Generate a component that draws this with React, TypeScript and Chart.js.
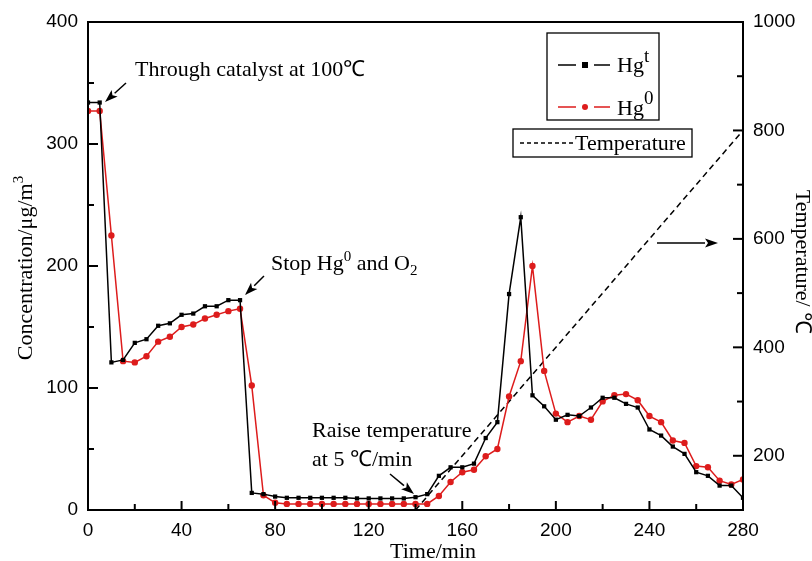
import React, { useEffect, useRef } from 'react';
import { Chart, registerables } from 'chart.js';

Chart.register(...registerables);

// ---- Data ----
const times = [
  0, 5, 10, 15, 20, 25, 30, 35, 40, 45, 50, 55, 60, 65, 70, 75, 80, 85, 90, 95,
  100, 105, 110, 115, 120, 125, 130, 135, 140, 145, 150, 155, 160, 165, 170, 175,
  180, 185, 190, 195, 200, 205, 210, 215, 220, 225, 230, 235, 240, 245, 250, 255,
  260, 265, 270, 275, 280,
];

const hgTotal = [
  334, 334, 121, 123, 137, 140, 151, 153, 160, 161, 167, 167, 172, 172, 14, 13, 11, 10, 10, 10,
  10, 10, 10, 9.5, 9.5, 9.5, 9.5, 9.5, 10.5, 13, 28, 35, 35, 38, 59, 72,
  177, 240, 94, 85, 74, 78, 77, 84, 92, 92, 87, 84, 66, 61, 52, 46,
  31, 28, 20, 20, 10,
];

const hgElemental = [
  327, 327, 225, 122, 121, 126, 138, 142, 150, 152, 157, 160, 163, 165, 102, 12, 6, 5, 5, 5,
  5, 5, 5, 5, 5, 5, 5, 5, 5, 5, 11.5, 23, 31, 33, 44, 50,
  93, 122, 200, 114, 79, 72, 77, 74, 89, 94, 95, 90, 77, 72, 57, 55,
  36, 35, 24, 21, 25,
];

const tempTimes = [140, 280];
const tempValues = [100, 800];

const xTickValues = [0, 40, 80, 120, 160, 200, 240, 280];
const leftTickValues = [0, 100, 200, 300, 400];
const rightTickValues = [200, 400, 600, 800, 1000];

const SERIF = "'Liberation Serif', 'Times New Roman', serif";
const SANS = "'Liberation Sans', Arial, sans-serif";
const RED = '#dd1c1c';

type Part = { t: string; size?: number; dy?: number };

function richWidth(ctx: CanvasRenderingContext2D, parts: Part[]) {
  let w = 0;
  for (const p of parts) {
    ctx.font = `${p.size || 22}px ${SERIF}`;
    w += ctx.measureText(p.t).width;
  }
  return w;
}

function rich(ctx: CanvasRenderingContext2D, parts: Part[], x: number, y: number, align = 'left') {
  const w = richWidth(ctx, parts);
  let cx = align === 'center' ? x - w / 2 : x;
  ctx.textAlign = 'left';
  ctx.textBaseline = 'alphabetic';
  for (const p of parts) {
    ctx.font = `${p.size || 22}px ${SERIF}`;
    ctx.fillText(p.t, cx, y + (p.dy || 0));
    cx += ctx.measureText(p.t).width;
  }
}

function arrow(ctx: CanvasRenderingContext2D, x1: number, y1: number, x2: number, y2: number) {
  const ang = Math.atan2(y2 - y1, x2 - x1);
  const hl = 13;
  const hw = 4.5;
  const bx = x2 - hl * Math.cos(ang);
  const by = y2 - hl * Math.sin(ang);
  ctx.lineWidth = 1.5;
  ctx.beginPath();
  ctx.moveTo(x1, y1);
  ctx.lineTo(bx, by);
  ctx.stroke();
  ctx.beginPath();
  ctx.moveTo(x2, y2);
  ctx.lineTo(bx + hw * Math.sin(ang), by - hw * Math.cos(ang));
  ctx.lineTo(bx + 3 * Math.cos(ang), by + 3 * Math.sin(ang));
  ctx.lineTo(bx - hw * Math.sin(ang), by + hw * Math.cos(ang));
  ctx.closePath();
  ctx.fill();
}

const decorPlugin = {
  id: 'decor',
  afterDraw(chart: any) {
    const ctx: CanvasRenderingContext2D = chart.ctx;
    const { left, right, top, bottom } = chart.chartArea;
    const xs = chart.scales.x;
    const ys = chart.scales.y;
    const y2 = chart.scales.y2;
    ctx.save();
    ctx.strokeStyle = '#000';
    ctx.fillStyle = '#000';

    // frame
    ctx.lineWidth = 2;
    ctx.beginPath();
    ctx.moveTo(left, top);
    ctx.lineTo(right, top);
    ctx.lineTo(right, bottom);
    ctx.lineTo(left, bottom);
    ctx.closePath();
    ctx.stroke();

    // inward ticks
    ctx.lineWidth = 2;
    for (let v = xs.min; v <= xs.max; v += 20) {
      const px = xs.getPixelForValue(v);
      const len = v % 40 === 0 ? 9 : 6;
      ctx.beginPath();
      ctx.moveTo(px, bottom);
      ctx.lineTo(px, bottom - len);
      ctx.stroke();
    }
    for (let v = ys.min; v <= ys.max; v += 50) {
      const py = ys.getPixelForValue(v);
      const len = v % 100 === 0 ? 10 : 6;
      ctx.beginPath();
      ctx.moveTo(left, py);
      ctx.lineTo(left + len, py);
      ctx.stroke();
    }
    for (let v = 200; v <= y2.max; v += 100) {
      const py = y2.getPixelForValue(v);
      const len = v % 200 === 0 ? 10 : 6;
      ctx.beginPath();
      ctx.moveTo(right, py);
      ctx.lineTo(right - len, py);
      ctx.stroke();
    }

    // annotations
    ctx.fillStyle = '#000';
    rich(ctx, [{ t: 'Through catalyst at 100℃' }], 135, 76);
    arrow(ctx, 126, 83, 105, 102);

    rich(
      ctx,
      [
        { t: 'Stop Hg' },
        { t: '0', size: 15, dy: -9 },
        { t: ' and O' },
        { t: '2', size: 15, dy: 5 },
      ],
      271,
      270,
    );
    arrow(ctx, 264, 276, 245, 295);

    rich(ctx, [{ t: 'Raise temperature' }], 312, 437);
    rich(ctx, [{ t: 'at 5 ℃/min' }], 312, 466);
    arrow(ctx, 390, 474, 414, 494);

    arrow(ctx, 657, 243, 718, 243);

    // legend box 1
    ctx.lineWidth = 1.3;
    ctx.strokeStyle = '#000';
    ctx.strokeRect(547, 33, 112, 87);
    // Hg^t entry
    ctx.lineWidth = 1.5;
    ctx.beginPath();
    ctx.moveTo(558, 65);
    ctx.lineTo(576, 65);
    ctx.moveTo(594, 65);
    ctx.lineTo(610, 65);
    ctx.stroke();
    ctx.fillRect(582, 62, 6, 6);
    rich(ctx, [{ t: 'Hg' }, { t: 't', size: 19, dy: -10 }], 617, 72);
    // Hg^0 entry
    ctx.strokeStyle = RED;
    ctx.fillStyle = RED;
    ctx.beginPath();
    ctx.moveTo(558, 107);
    ctx.lineTo(576, 107);
    ctx.moveTo(594, 107);
    ctx.lineTo(610, 107);
    ctx.stroke();
    ctx.beginPath();
    ctx.arc(585, 107, 3, 0, Math.PI * 2);
    ctx.fill();
    ctx.fillStyle = '#000';
    ctx.strokeStyle = '#000';
    rich(ctx, [{ t: 'Hg' }, { t: '0', size: 19, dy: -11 }], 617, 115);

    // legend box 2
    ctx.lineWidth = 1.3;
    ctx.strokeRect(513, 129, 179, 28);
    ctx.lineWidth = 1.3;
    ctx.setLineDash([4, 3]);
    ctx.beginPath();
    ctx.moveTo(520, 143);
    ctx.lineTo(574, 143);
    ctx.stroke();
    ctx.setLineDash([]);
    rich(ctx, [{ t: 'Temperature' }], 575, 150);

    // axis titles
    rich(ctx, [{ t: 'Time/min' }], 433, 558, 'center');

    ctx.save();
    ctx.translate(32, 268);
    ctx.rotate(-Math.PI / 2);
    rich(ctx, [{ t: 'Concentration/μg/m' }, { t: '3', size: 15, dy: -9 }], 0, 0, 'center');
    ctx.restore();

    ctx.save();
    ctx.translate(796, 262);
    ctx.rotate(Math.PI / 2);
    rich(ctx, [{ t: 'Temperature/ ℃' }], 0, 0, 'center');
    ctx.restore();

    ctx.restore();
  },
};

export default function App() {
  const canvasRef = useRef<HTMLCanvasElement | null>(null);

  useEffect(() => {
    document.body.style.margin = '0';
    const canvas = canvasRef.current;
    if (!canvas) return;

    const tickFont = { family: SANS, size: 19 };
    const plain = (v: any) => String(v);

    const chart = new Chart(canvas, {
      type: 'line',
      data: {
        datasets: [
          {
            label: 'Hgt',
            data: times.map((t, i) => ({ x: t, y: hgTotal[i] })),
            borderColor: '#000',
            backgroundColor: '#000',
            borderWidth: 1.5,
            pointStyle: 'rect',
            pointRadius: 3,
            pointBorderWidth: 0,
            yAxisID: 'y',
          },
          {
            label: 'Hg0',
            data: times.map((t, i) => ({ x: t, y: hgElemental[i] })),
            borderColor: RED,
            backgroundColor: RED,
            borderWidth: 1.5,
            pointStyle: 'circle',
            pointRadius: 3.2,
            pointBorderWidth: 0,
            yAxisID: 'y',
          },
          {
            label: 'Temperature',
            data: tempTimes.map((t, i) => ({ x: t, y: tempValues[i] })),
            borderColor: '#000',
            borderWidth: 1.5,
            borderDash: [6, 4],
            pointRadius: 0,
            yAxisID: 'y2',
          },
        ],
      },
      options: {
        responsive: false,
        animation: false,
        devicePixelRatio: 1,
        layout: { padding: { top: 22, left: 0, right: 0, bottom: 0 } },
        plugins: { legend: { display: false }, tooltip: { enabled: false } },
        scales: {
          x: {
            type: 'linear',
            min: 0,
            max: 280,
            afterBuildTicks: (s: any) => {
              s.ticks = xTickValues.map((v) => ({ value: v }));
            },
            ticks: { font: tickFont, color: '#000', padding: 9, maxRotation: 0, callback: plain },
            grid: { display: false, drawTicks: false },
            border: { display: false },
            afterFit: (s: any) => {
              s.height = 51;
            },
          },
          y: {
            type: 'linear',
            position: 'left',
            min: 0,
            max: 400,
            afterBuildTicks: (s: any) => {
              s.ticks = leftTickValues.map((v) => ({ value: v }));
            },
            ticks: { font: tickFont, color: '#000', padding: 10, callback: plain },
            grid: { display: false, drawTicks: false },
            border: { display: false },
            afterFit: (s: any) => {
              s.width = 88;
            },
          },
          y2: {
            type: 'linear',
            position: 'right',
            min: 100,
            max: 1000,
            afterBuildTicks: (s: any) => {
              s.ticks = rightTickValues.map((v) => ({ value: v }));
            },
            ticks: { font: tickFont, color: '#000', padding: 10, callback: plain },
            grid: { display: false, drawTicks: false },
            border: { display: false },
            afterFit: (s: any) => {
              s.width = 69;
            },
          },
        },
      },
      plugins: [decorPlugin],
    } as any);

    return () => chart.destroy();
  }, []);

  return (
    <div style={{ position: 'absolute', left: 0, top: 0, width: 812, height: 561, background: '#fff' }}>
      <canvas ref={canvasRef} width={812} height={561} style={{ width: 812, height: 561 }} />
    </div>
  );
}
